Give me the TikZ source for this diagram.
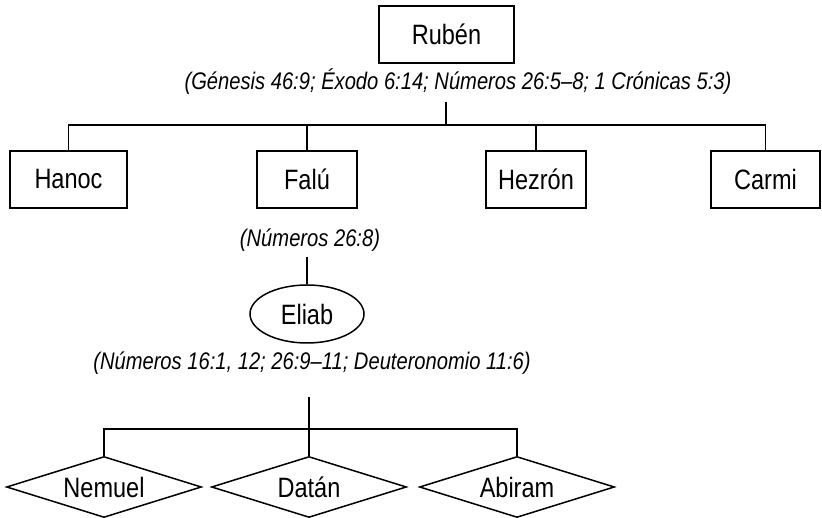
\documentclass[tikz,border=0pt]{standalone}
\usepackage{fontspec}
\setmainfont{Liberation Sans}[FakeStretch=0.84]
\usetikzlibrary{shapes.geometric,positioning}
\tikzset{
    %Define style for name boxes
    person/.style={
      rectangle,
      draw=black, line width=1.5pt,
      minimum height=57pt,
      inner sep=0pt,
      font=\fontsize{28}{30}\selectfont},
    %Define style for the son of Falu
    heir/.style={
      ellipse,
      draw=black, line width=1.5pt,
      minimum width=114pt,
      minimum height=58pt,
      inner sep=0pt,
      font=\fontsize{28}{30}\selectfont},
    %Define style for the sons of Eliab
    kin/.style={
      diamond, aspect=3.2,
      draw=black, line width=1.5pt,
      minimum width=195pt,
      minimum height=61pt,
      inner sep=0pt,
      font=\fontsize{28}{30}\selectfont},
    % Define style for scripture references
    ref/.style={
      inner sep=0pt,
      font=\fontsize{24}{26}\selectfont\itshape},
    % Define line style
    link/.style={
      line width=1.5pt}
}

\begin{document}
\begin{tikzpicture}[x=1pt, y=1pt]
    \useasboundingbox (0,0) rectangle (822,518);

    \node[person, minimum width=135pt] (ruben) at (446.5,483.5) {Rubén};
    \node[ref] (ref1) at (458,436)
      {(Génesis 46:9; Éxodo 6:14; Números 26:5–8; 1 Crónicas 5:3)};
    \coordinate (stem1) at (446,416);
    \coordinate (fork1) at (446,393);

    \node[person, minimum width=117pt] (hanoc) at (68.5,338.5) {Hanoc};
    \node[person, minimum width=100pt] (falu) at (307,338.5) {Falú};
    \node[person, minimum width=100pt] (hezron) at (536,338.5) {Hezrón};
    \node[person, minimum width=109pt] (carmi) at (765.5,338.5) {Carmi};

    \draw[link] (stem1) -- (fork1);
    \draw[link] (hanoc.north) |- (fork1);
    \draw[link] (falu.north) |- (fork1);
    \draw[link] (hezron.north) |- (fork1);
    \draw[link] (carmi.north) |- (fork1);

    \node[ref] (ref2) at (310,278) {(Números 26:8)};
    \coordinate (stem2) at (307,261);
    \node[heir] (eliab) at (307,204) {Eliab};
    \draw[link] (stem2) -- (eliab.north);

    \node[ref] (ref3) at (312,155)
      {(Números 16:1, 12; 26:9–11; Deuteronomio 11:6)};
    \coordinate (stem3) at (309,121);
    \coordinate (fork2) at (309,89);

    \node[kin] (nemuel) at (104,31) {Nemuel};
    \node[kin] (datan) at (309,31) {Datán};
    \node[kin] (abiram) at (517,31) {Abiram};

    \draw[link] (stem3) -- (datan.north);
    \draw[link] (nemuel.north) |- (fork2);
    \draw[link] (abiram.north) |- (fork2);
\end{tikzpicture}
\end{document}
